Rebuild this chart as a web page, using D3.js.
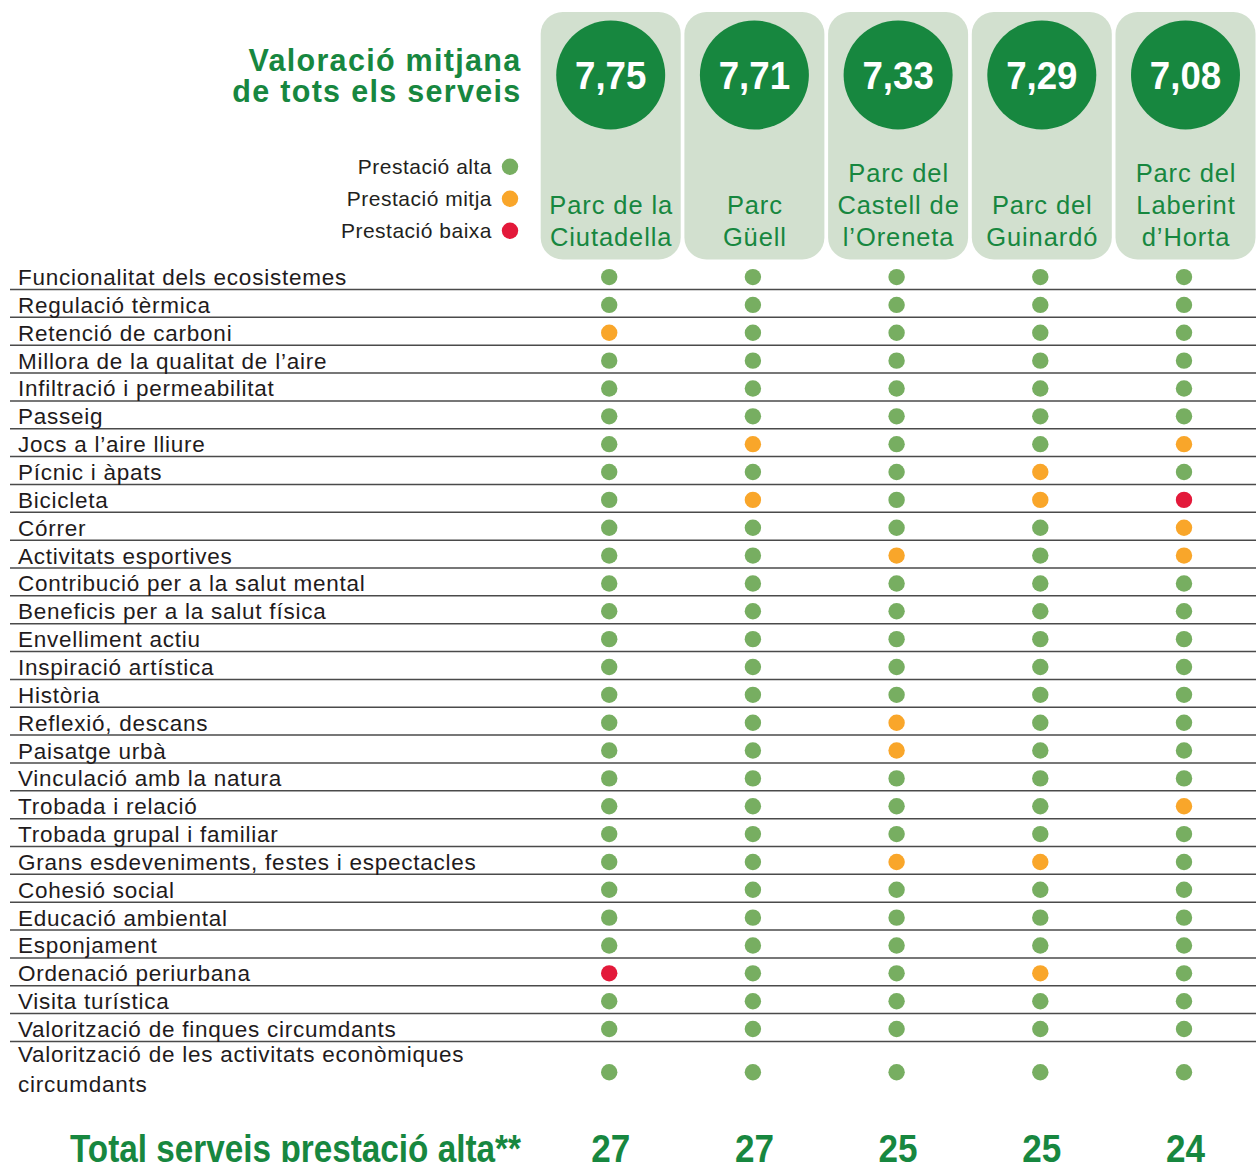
<!DOCTYPE html>
<html>
<head>
<meta charset="utf-8">
<script src="https://cdn.jsdelivr.net/npm/d3@7"></script>
<style>
  body { margin: 0; background: #fff; }
  svg { display: block; font-family: 'Liberation Sans', Arial, sans-serif; }
</style>
</head>
<body>
<div id="chart"></div>
<script>
// Data
const parkNames = [
  ['Parc de la', 'Ciutadella'],
  ['Parc', 'Güell'],
  ['Parc del', 'Castell de', 'l’Oreneta'],
  ['Parc del', 'Guinardó'],
  ['Parc del', 'Laberint', 'd’Horta']
];
const parkScores = [7.75, 7.71, 7.33, 7.29, 7.08];
const parkTotals = [27, 27, 25, 25, 24];

const services = [
  'Funcionalitat dels ecosistemes',
  'Regulació tèrmica',
  'Retenció de carboni',
  'Millora de la qualitat de l’aire',
  'Infiltració i permeabilitat',
  'Passeig',
  'Jocs a l’aire lliure',
  'Pícnic i àpats',
  'Bicicleta',
  'Córrer',
  'Activitats esportives',
  'Contribució per a la salut mental',
  'Beneficis per a la salut física',
  'Envelliment actiu',
  'Inspiració artística',
  'Història',
  'Reflexió, descans',
  'Paisatge urbà',
  'Vinculació amb la natura',
  'Trobada i relació',
  'Trobada grupal i familiar',
  'Grans esdeveniments, festes i espectacles',
  'Cohesió social',
  'Educació ambiental',
  'Esponjament',
  'Ordenació periurbana',
  'Visita turística',
  'Valorització de finques circumdants',
  'Valorització de les activitats econòmiques\ncircumdants'
];

// one letter per park, same order as parkNames: a = alta, m = mitja, b = baixa
const ratings = [
  'aaaaa', 'aaaaa', 'maaaa', 'aaaaa', 'aaaaa', 'aaaaa', 'amaam',
  'aaama', 'amamb', 'aaaam', 'aamam', 'aaaaa', 'aaaaa', 'aaaaa',
  'aaaaa', 'aaaaa', 'aamaa', 'aamaa', 'aaaaa', 'aaaam', 'aaaaa',
  'aamma', 'aaaaa', 'aaaaa', 'aaaaa', 'baama', 'aaaaa', 'aaaaa',
  'aaaaa'
];

const levelCodes = ['a', 'm', 'b'];
const levelLabels = ['Prestació alta', 'Prestació mitja', 'Prestació baixa'];

function draw() {
  let dimensions = {
    width: 1256,
    height: 1162,
    labelX: 18,
    lineStart: 10,
    boxWidth: 140,
    boxTop: 12,
    boxBottom: 259.5,
    circleY: 75,
    circleR: 54.5
  };

  const green = '#17873f';
  const colour = d3.scaleOrdinal()
    .domain(levelCodes)
    .range(['#77ae61', '#f9a62a', '#e3193a']);

  const comma = d3.formatLocale({ decimal: ',', thousands: '.', grouping: [3], currency: ['', '€'] }).format('.2f');

  const svg = d3.select('#chart')
    .append('svg')
    .attr('width', dimensions.width)
    .attr('height', dimensions.height);

  // Scales
  const parkIdx = d3.range(parkNames.length);
  const xScale = d3.scalePoint()
    .domain(parkIdx)
    .range([610.7, 1185.5]);

  // y position of the rule below row i
  const yLine = d3.scaleLinear()
    .domain([0, 1])
    .range([289.5, 317.35]);

  // Title
  const title = svg.append('text')
    .attr('text-anchor', 'end')
    .attr('fill', green)
    .attr('font-size', 30.5)
    .attr('font-weight', 'bold')
    .attr('letter-spacing', 1.3);
  title.append('tspan').attr('x', 521.5).attr('y', 70.7).text('Valoració mitjana');
  title.append('tspan').attr('x', 521.5).attr('y', 101.7).text('de tots els serveis');

  // Legend
  const legend = svg.append('g')
  levelCodes.forEach((code, i) => {
    const cy = 166.7 + i * 32;
    legend.append('text')
      .attr('x', 492)
      .attr('y', cy + 6.8)
      .attr('text-anchor', 'end')
      .attr('font-size', 21)
      .attr('letter-spacing', 0.5)
      .attr('fill', '#231f20')
      .text(levelLabels[i]);
    legend.append('circle')
      .attr('cx', 510)
      .attr('cy', cy)
      .attr('r', 8.2)
      .attr('fill', colour(code));
  });

  // Park headers
  const head = svg.append('g')
    .selectAll('g')
    .data(parkIdx)
    .join('g');

  head.append('rect')
    .attr('x', d => xScale(d) - dimensions.boxWidth / 2)
    .attr('y', dimensions.boxTop)
    .attr('width', dimensions.boxWidth)
    .attr('height', dimensions.boxBottom - dimensions.boxTop)
    .attr('rx', 22)
    .attr('fill', '#d2e0cf');

  head.append('circle')
    .attr('cx', d => xScale(d))
    .attr('cy', dimensions.circleY)
    .attr('r', dimensions.circleR)
    .attr('fill', green);

  head.append('text')
    .attr('transform', d => `translate(${xScale(d)}, ${dimensions.circleY + 14}) scale(0.94, 1)`)
    .attr('text-anchor', 'middle')
    .attr('font-size', 39)
    .attr('font-weight', 'bold')
    .attr('fill', '#fff')
    .text(d => comma(parkScores[d]));

  head.each(function (d) {
    const lines = parkNames[d];
    d3.select(this).append('text')
      .attr('text-anchor', 'middle')
      .attr('font-size', 25.5)
      .attr('letter-spacing', 0.9)
      .attr('fill', green)
      .selectAll('tspan')
      .data(lines)
      .join('tspan')
      .attr('x', xScale(d) + 0.5)
      .attr('y', (l, i) => 246 - (lines.length - 1 - i) * 32)
      .text(l => l);
  });

  // Rows
  const rules = d3.range(services.length - 1);
  svg.append('g')
    .selectAll('line')
    .data(rules)
    .join('line')
    .attr('x1', dimensions.lineStart)
    .attr('x2', dimensions.width)
    .attr('y1', d => yLine(d))
    .attr('y2', d => yLine(d))
    .attr('stroke', '#4a4a4a')
    .attr('stroke-width', 1.5);

  const rows = svg.append('g')
    .selectAll('g')
    .data(services)
    .join('g');

  rows.each(function (name, i) {
    const lines = name.split('\n');
    const top = yLine(i - 1);
    const span = lines.length;
    const row = d3.select(this);

    row.append('text')
      .attr('font-size', 22.5)
      .attr('letter-spacing', 0.75)
      .attr('fill', '#1f1b1c')
      .selectAll('tspan')
      .data(lines)
      .join('tspan')
      .attr('x', dimensions.labelX)
      .attr('y', (l, j) => span > 1 ? top + 21 + j * 29.5 : top + 23.4)
      .text(l => l);

    const cy = top + (yLine(span) - yLine(0)) / 2 + (span > 1 ? 3 : 1.5);
    row.selectAll('circle')
      .data(ratings[i].split(''))
      .join('circle')
      .attr('cx', (c, j) => xScale(j) - 1.5)
      .attr('cy', cy)
      .attr('r', 8.2)
      .attr('fill', c => colour(c));
  });

  // Totals
  svg.append('text')
    .attr('x', 521)
    .attr('y', 1162)
    .attr('text-anchor', 'end')
    .attr('font-size', 39)
    .attr('font-weight', 'bold')
    .attr('fill', green)
    .attr('textLength', 451)
    .attr('lengthAdjust', 'spacingAndGlyphs')
    .text('Total serveis prestació alta**');

  svg.append('g')
    .selectAll('text')
    .data(parkIdx)
    .join('text')
    .attr('transform', d => `translate(${xScale(d)}, 1162) scale(0.9, 1)`)
    .attr('text-anchor', 'middle')
    .attr('font-size', 39)
    .attr('font-weight', 'bold')
    .attr('fill', green)
    .text(d => parkTotals[d]);
}

draw();
</script>
</body>
</html>
